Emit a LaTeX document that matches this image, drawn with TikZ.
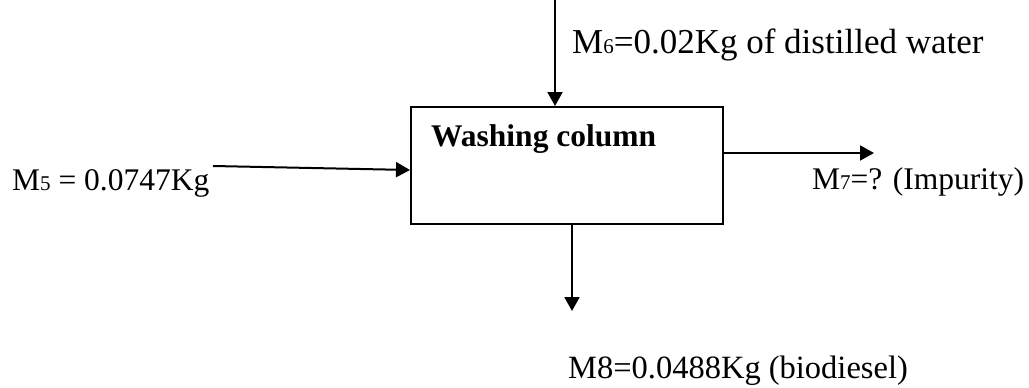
\documentclass[tikz,border=0pt]{standalone}
\usepackage{fontspec}
\setmainfont{Liberation Serif}
\usetikzlibrary{arrows.meta}
\newcommand{\sm}[1]{\raisebox{-0.5pt}{\fontsize{21}{21}\selectfont #1}}
\tikzset{
  flow/.style={line width=2pt, -{Triangle[length=14pt,width=15pt]}},
  lbl/.style={anchor=base west, inner sep=0pt, font=\fontsize{31.5}{38}\selectfont},
  unit/.style={draw, line width=2pt}
}
\begin{document}
\begin{tikzpicture}[x=1pt,y=-1pt]
\useasboundingbox (0,0) rectangle (1029,388);
\node[unit, minimum width=312pt, minimum height=117pt, anchor=north west] (col) at (410,106) {};
\node[lbl, font=\fontsize{31.5}{38}\selectfont\bfseries] (name) at (431,146) {Washing column};
\coordinate (topin) at (555,0);
\coordinate (leftin) at (213,166);
\coordinate (rightout) at (874,153);
\coordinate (botout) at (572,311);
\draw[flow] (topin) -- (topin |- col.north);
\draw[flow] (leftin) -- (col.west |- 0,170);
\draw[flow] (col.east |- rightout) -- (rightout);
\draw[flow] (col.south -| botout) -- (botout);
\node[lbl] (m5) at (12,190) {M\sm{5} = 0.0747Kg};
\node[lbl, font=\fontsize{35}{40}\selectfont] (m6) at (572,53) {M\sm{6}=0.02Kg of distilled water};
\node[lbl] (m7) at (812,189) {M\sm{7}=? (Impurity)};
\node[lbl, font=\fontsize{32.5}{38}\selectfont] (m8) at (568,378) {M8=0.0488Kg (biodiesel)};
\end{tikzpicture}
\end{document}
